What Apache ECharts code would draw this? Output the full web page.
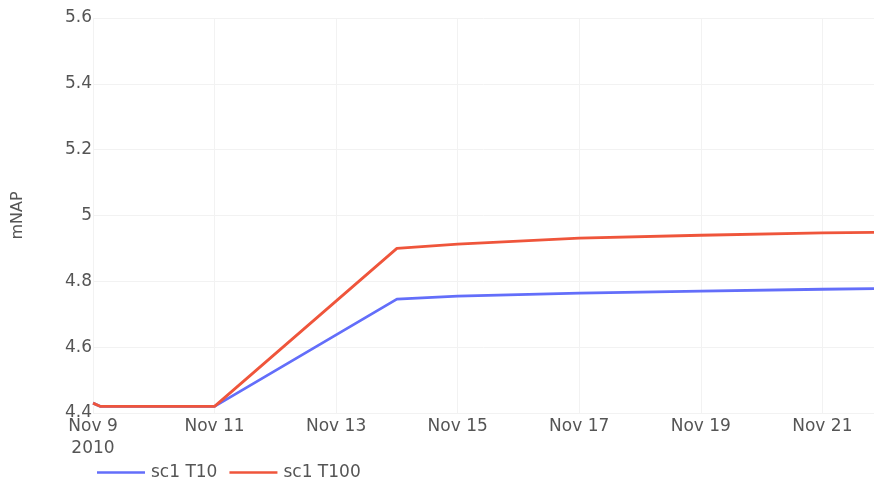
<!DOCTYPE html>
<html><head><meta charset="utf-8">
<script src="https://cdn.jsdelivr.net/npm/echarts@6/dist/echarts.min.js"></script>
<style>html,body{margin:0;padding:0;background:#fff}#c{width:874px;height:486px}</style>
</head><body><div id="c"></div>
<script>
const dates = ["2010-11-09T00:00","2010-11-09T03:00","2010-11-11T00:00","2010-11-14T00:00","2010-11-15T00:00","2010-11-17T00:00","2010-11-19T00:00","2010-11-21T00:00","2010-11-23T00:00"];
const sc1T10  = [4.43, 4.42, 4.42, 4.746, 4.755, 4.764, 4.770, 4.776, 4.780];
const sc1T100 = [4.43, 4.42, 4.42, 4.900, 4.913, 4.931, 4.940, 4.947, 4.951];
const seriesNames = ["sc1 T10", "sc1 T100"];
const yTicks = [4.4, 4.6, 4.8, 5, 5.2, 5.4, 5.6];

const DAY = 86400000;
const toMs = s => { const [d,t] = s.split("T"); const [Y,M,D] = d.split("-").map(Number); const [h,m] = t.split(":").map(Number); return Date.UTC(Y, M-1, D, h, m); };
const xs = dates.map(toMs);
const xMin = Date.UTC(2010,10,9);
const xMax = xMin + 12.85*DAY;
const months = ["Jan","Feb","Mar","Apr","May","Jun","Jul","Aug","Sep","Oct","Nov","Dec"];
const font = "'DejaVu Sans', sans-serif";
const txt = '#555';
const fs = 17;
const chart = echarts.init(document.getElementById('c'));
chart.setOption({
  animation: false,
  color: ['#636efa', '#EF553B'],
  grid: {left: 93, right: 0, top: 18, bottom: 73, containLabel: false},
  legend: {
    left: 92, top: 459, itemGap: 12, itemWidth: 48, itemHeight: 2.5, icon: 'rect',
    textStyle: {fontFamily: font, fontSize: fs, color: txt, padding: [0,0,0,1]},
    data: seriesNames
  },
  xAxis: {
    type: 'value', min: xMin, max: xMax, interval: 2*DAY,
    axisLine: {show: false}, axisTick: {show: false},
    splitLine: {lineStyle: {color: '#f2f2f2', width: 1}},
    axisLabel: {
      showMaxLabel: false, margin: 3, lineHeight: 22,
      fontFamily: font, fontSize: fs, color: txt,
      formatter: v => { const d = new Date(v); const s = months[d.getUTCMonth()] + ' ' + d.getUTCDate(); return v === xMin ? s + '\n' + d.getUTCFullYear() : s; }
    }
  },
  yAxis: {
    type: 'value', min: yTicks[0], max: yTicks[yTicks.length-1], interval: 0.2,
    name: 'mNAP', nameLocation: 'middle', nameGap: 67,
    nameTextStyle: {fontFamily: font, fontSize: 16, color: txt},
    axisLine: {show: false}, axisTick: {show: false},
    splitLine: {lineStyle: {color: '#f2f2f2', width: 1}},
    axisLabel: {fontFamily: font, fontSize: fs, color: txt, margin: 1,
      formatter: v => String(Math.round(v*10)/10)}
  },
  series: [
    {name: seriesNames[0], type: 'line', showSymbol: false, clip: true, lineStyle: {width: 2.8}, data: xs.map((x,i)=>[x, sc1T10[i]])},
    {name: seriesNames[1], type: 'line', showSymbol: false, clip: true, lineStyle: {width: 2.8}, data: xs.map((x,i)=>[x, sc1T100[i]])}
  ]
});
</script></body></html>
